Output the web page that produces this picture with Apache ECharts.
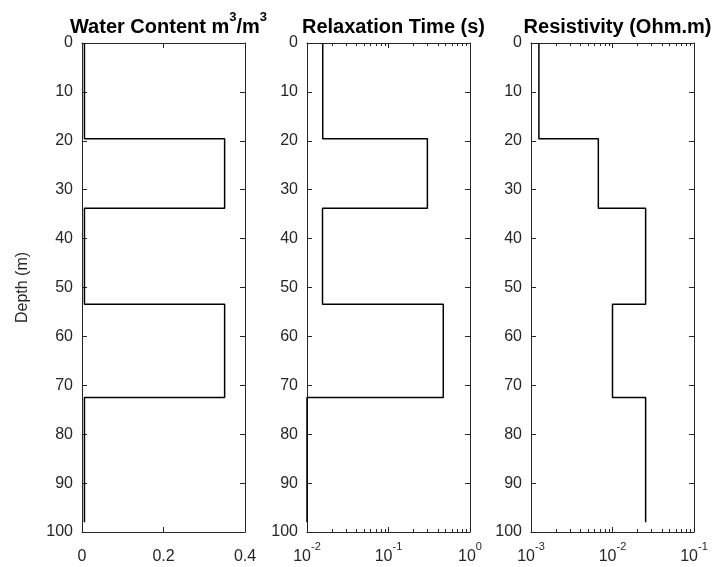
<!DOCTYPE html>
<html>
<head>
<meta charset="utf-8">
<script src="https://cdn.jsdelivr.net/npm/echarts@6/dist/echarts.min.js"></script>
<style>html,body{margin:0;padding:0;background:#fff}#c{width:713px;height:567px}</style>
</head>
<body>
<div id="c"></div>
<script>
// Layer boundaries (m)
const depthTops = [0, 19.6, 33.8, 53.4, 72.5];
const depthBottoms = [19.6, 33.8, 53.4, 72.5, 98];
// Layer values
const waterContent = [0.006, 0.35, 0.006, 0.35, 0.006];
const relaxationTime = [0.0156, 0.30, 0.0155, 0.47, 0.01];
const resistivity = [0.00125, 0.0067, 0.0255, 0.010, 0.0255];
// Titles / axis text
const panelTitles = ['{n|Water Content m}{s|3}{n|/m}{s|3}', '{n|Relaxation Time (s)}', '{n|Resistivity (Ohm.m)}'];
const depthLabel = 'Depth (m)';
const relaxMinorTicks = [0.02,0.03,0.04,0.05,0.06,0.07,0.08,0.09,0.2,0.3,0.4,0.5,0.6,0.7,0.8,0.9];
const resistMinorTicks = [0.002,0.003,0.004,0.005,0.006,0.007,0.008,0.009,0.02,0.03,0.04,0.05,0.06,0.07,0.08,0.09];

function stepPoints(vals) {
  const pts = [];
  for (let i = 0; i < vals.length; i++) {
    pts.push([vals[i], depthTops[i]]);
    pts.push([vals[i], depthBottoms[i]]);
  }
  return pts;
}

const FONT = 'Liberation Sans, Arial, Helvetica, sans-serif';
const AX = '#262626';
const panels = [
  {left: 82, width: 163},
  {left: 307, width: 163},
  {left: 531, width: 163}
];
const TOP = 43, HEIGHT = 489;

const labelRich = {
  b: {fontSize: 16, fontFamily: FONT, color: '#262626', lineHeight: 24, verticalAlign: 'bottom'},
  s: {fontSize: 11, fontFamily: FONT, color: '#262626', lineHeight: 24, verticalAlign: 'top'}
};
function logFmt(v) {
  const e = Math.round(Math.log10(v));
  return '{b|10}{s|' + e + '}';
}

const grids = panels.map(p => ({left: p.left, width: p.width, top: TOP, height: HEIGHT, containLabel: false}));

function baseAxisLine() {
  return {show: true, onZero: false, lineStyle: {color: AX, width: 1}};
}
const tickStyle = {show: true, inside: true, length: 5, lineStyle: {color: AX, width: 1}};
const xAxes = [];
// Panel 0 (linear)
xAxes.push({type: 'value', gridIndex: 0, position: 'bottom', min: 0, max: 0.4, interval: 0.2,
  axisLine: baseAxisLine(), axisTick: tickStyle, splitLine: {show: false},
  axisLabel: {margin: 9, formatter: v => '{b|' + v + '}', rich: labelRich}});
xAxes.push({type: 'value', gridIndex: 0, position: 'top', min: 0, max: 0.4, interval: 0.2,
  axisLine: baseAxisLine(), axisTick: tickStyle, splitLine: {show: false}, axisLabel: {show: false}});
// Log panels
[[1, 0.01, 1], [2, 0.001, 0.1]].forEach(([g, mn, mx]) => {
  xAxes.push({type: 'log', logBase: 10, gridIndex: g, position: 'bottom', min: mn, max: mx,
    axisLine: baseAxisLine(), axisTick: tickStyle, splitLine: {show: false}, minorTick: {show: false},
    axisLabel: {margin: 9, formatter: logFmt, rich: labelRich}});
  xAxes.push({type: 'log', logBase: 10, gridIndex: g, position: 'top', min: mn, max: mx,
    axisLine: baseAxisLine(), axisTick: tickStyle, splitLine: {show: false}, minorTick: {show: false},
    axisLabel: {show: false}});
});
const mainX = [0, 2, 4];
const yAxes = [];
panels.forEach((p, g) => {
  yAxes.push({type: 'value', gridIndex: g, position: 'left', inverse: true, min: 0, max: 100, interval: 10,
    name: g === 0 ? depthLabel : '', nameLocation: 'middle', nameGap: 51, nameRotate: 90,
    nameTextStyle: {fontSize: 16, fontFamily: FONT, color: '#262626'},
    axisLine: baseAxisLine(), axisTick: tickStyle, splitLine: {show: false},
    axisLabel: {margin: 9, fontSize: 16, fontFamily: FONT, color: '#262626'}});
  yAxes.push({type: 'value', gridIndex: g, position: 'right', inverse: true, min: 0, max: 100, interval: 10,
    axisLine: baseAxisLine(), axisTick: tickStyle, splitLine: {show: false}, axisLabel: {show: false}});
});

const datasets = [waterContent, relaxationTime, resistivity];
const series = datasets.map((vals, g) => ({
  type: 'line', xAxisIndex: mainX[g], yAxisIndex: g * 2, data: stepPoints(vals),
  showSymbol: false, symbol: 'none', clip: true,
  lineStyle: {color: '#000', width: 1.5}, silent: true, animation: false
}));

const titles = panels.map((p, g) => ({
  text: panelTitles[g], left: p.left + p.width / 2, top: 6, textAlign: 'center',
  textStyle: {fontSize: 20, fontWeight: 'bold', fontFamily: FONT, color: '#000',
    rich: {
      n: {fontSize: 20, fontWeight: 'bold', fontFamily: FONT, color: '#000', lineHeight: 26, verticalAlign: 'bottom'},
      s: {fontSize: 13, fontWeight: 'bold', fontFamily: FONT, color: '#000', lineHeight: 26, verticalAlign: 'top'}
    }}
}));

const chart = echarts.init(document.getElementById('c'), null, {renderer: 'canvas'});
chart.setOption({
  animation: false,
  backgroundColor: '#fff',
  title: titles,
  grid: grids,
  xAxis: xAxes,
  yAxis: yAxes,
  series: series
});

// Minor log ticks placed through the axes' own scales
const minorGraphics = [];
[[1, relaxMinorTicks], [2, resistMinorTicks]].forEach(([g, vals]) => {
  const yTop = chart.convertToPixel({yAxisIndex: g * 2}, 0);
  const yBot = chart.convertToPixel({yAxisIndex: g * 2}, 100);
  vals.forEach(v => {
    const x = Math.round(chart.convertToPixel({xAxisIndex: mainX[g]}, v)) + 0.5;
    minorGraphics.push({type: 'line', silent: true, shape: {x1: x, y1: yBot, x2: x, y2: yBot - 3},
      style: {stroke: AX, lineWidth: 1}});
    minorGraphics.push({type: 'line', silent: true, shape: {x1: x, y1: yTop, x2: x, y2: yTop + 3},
      style: {stroke: AX, lineWidth: 1}});
  });
});
chart.setOption({graphic: minorGraphics});
</script>
</body>
</html>
